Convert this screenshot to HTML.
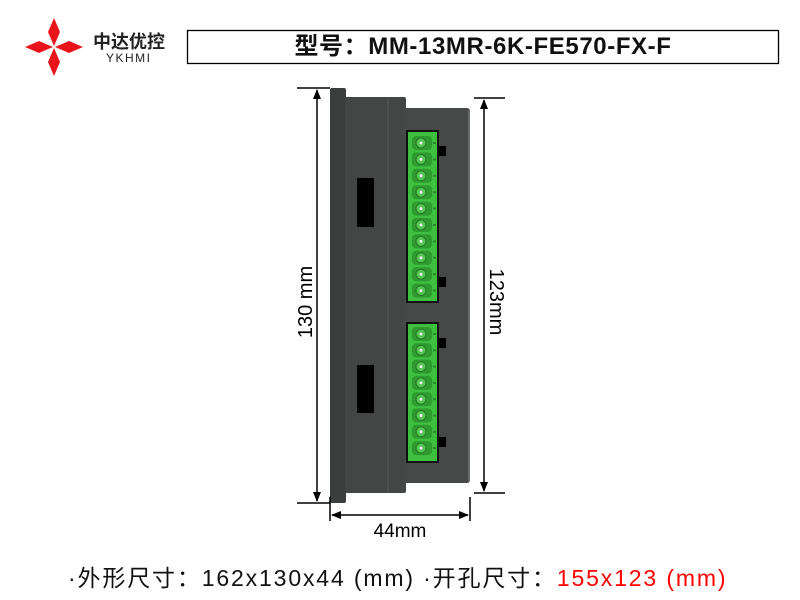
<!DOCTYPE html>
<html><head><meta charset="utf-8"><style>
body{margin:0;width:800px;height:600px;background:#fff;overflow:hidden;position:relative;font-family:"Liberation Sans","Noto Sans CJK SC",sans-serif}
.a{position:absolute}
</style></head><body>
<svg class="a" style="left:0;top:0" width="800" height="600" viewBox="0 0 800 600">
<g fill="#e8131b">
<polygon points="54,18 60,32 54,46 48,32"/>
<polygon points="54,48 60,62 54,76 48,62"/>
<polygon points="25,47 39,41 53,47 39,53"/>
<polygon points="55,47 69,41 83,47 69,53"/>
</g>
<rect x="187.5" y="30.5" width="591" height="33" fill="none" stroke="#000" stroke-width="1.3"/>
<rect x="330" y="88" width="16" height="415" rx="2" fill="#3c3e3e"/>
<rect x="345" y="97" width="61" height="396" rx="2" fill="#444646"/>
<line x1="388" y1="98" x2="388" y2="492" stroke="#5a5c5c" stroke-width="1"/>
<rect x="404" y="108" width="66" height="375" rx="3" fill="#474949"/>
<rect x="468" y="110" width="2" height="371" fill="#6a6c6c"/>
<rect x="357" y="178" width="17" height="49" fill="#000"/>
<rect x="357" y="365" width="17" height="48" fill="#000"/>
<rect x="436" y="146" width="10" height="10" fill="#000"/>
<rect x="436" y="277" width="10" height="10" fill="#000"/>
<rect x="436" y="338" width="10" height="10" fill="#000"/>
<rect x="436" y="437" width="10" height="10" fill="#000"/>
<rect x="406" y="130" width="33" height="173" fill="#111"/>
<rect x="408" y="132" width="29" height="169" fill="#3fbf3f"/>
<rect x="406" y="322" width="33" height="141" fill="#111"/>
<rect x="408" y="324" width="29" height="137" fill="#3fbf3f"/>
<g id="pins"></g>
<g stroke="#000" stroke-width="1.5" fill="none">
<line x1="297" y1="88" x2="330" y2="88"/><line x1="297" y1="503" x2="330" y2="503"/>
<line x1="317" y1="90" x2="317" y2="501"/>
<line x1="474" y1="98" x2="505" y2="98"/><line x1="474" y1="493" x2="505" y2="493"/>
<line x1="484" y1="100" x2="484" y2="491"/>
<line x1="330" y1="497" x2="330" y2="521"/><line x1="470" y1="497" x2="470" y2="521"/>
<line x1="332" y1="515" x2="468" y2="515"/>
</g>
<g fill="#000">
<polygon points="317,89 313,99 321,99"/><polygon points="317,502 313,492 321,492"/>
<polygon points="484,99 480,109 488,109"/><polygon points="484,492 480,482 488,482"/>
<polygon points="331,515 341,511 341,519"/><polygon points="469,515 459,511 459,519"/>
</g>
<text x="305" y="302" transform="rotate(-90 305 302)" font-size="20" text-anchor="middle" font-family="Liberation Sans,sans-serif" dy="7">130 mm</text>
<text x="497" y="302" transform="rotate(90 497 302)" font-size="20" text-anchor="middle" font-family="Liberation Sans,sans-serif" dy="7">123mm</text>
<text x="400" y="537" font-size="19" text-anchor="middle" font-family="Liberation Sans,sans-serif">44mm</text>
</svg>
<div class="a" style="left:93px;top:28px;font-size:18px;font-weight:bold;color:#222;letter-spacing:0px">中达优控</div>
<div class="a" style="left:106px;top:51px;font-size:12px;color:#222;letter-spacing:1.5px">YKHMI</div>
<div class="a" style="left:187px;top:30px;width:592px;height:34px;line-height:34px;text-align:center;font-size:24px;font-weight:bold;color:#111;letter-spacing:0.6px">型号：MM-13MR-6K-FE570-FX-F</div>
<div class="a" style="left:68px;top:559px;font-size:23px;white-space:nowrap;color:#111;letter-spacing:1.85px">·外形尺寸：162x130x44 (mm) ·开孔尺寸：<span style="color:#f00">155x123 (mm)</span></div>
<script>
var g=document.getElementById('pins'),s='';
function pins(y0,n,d){for(var i=0;i<n;i++){var y=y0+i*d;
s+='<rect x="412" y="'+(y-7)+'" width="20" height="14" rx="4" fill="#2f9a2f"/>';
s+='<circle cx="421" cy="'+y+'" r="5" fill="#55c455" stroke="#1f7a1f"/>';
s+='<circle cx="421" cy="'+y+'" r="1.5" fill="#eee"/>';
s+='<rect x="433" y="'+(y-1)+'" width="3" height="2" fill="#2a8a2a"/>';}}
pins(143,10,16.4);pins(334,8,16.3);
g.innerHTML=s;
</script>
</body></html>
